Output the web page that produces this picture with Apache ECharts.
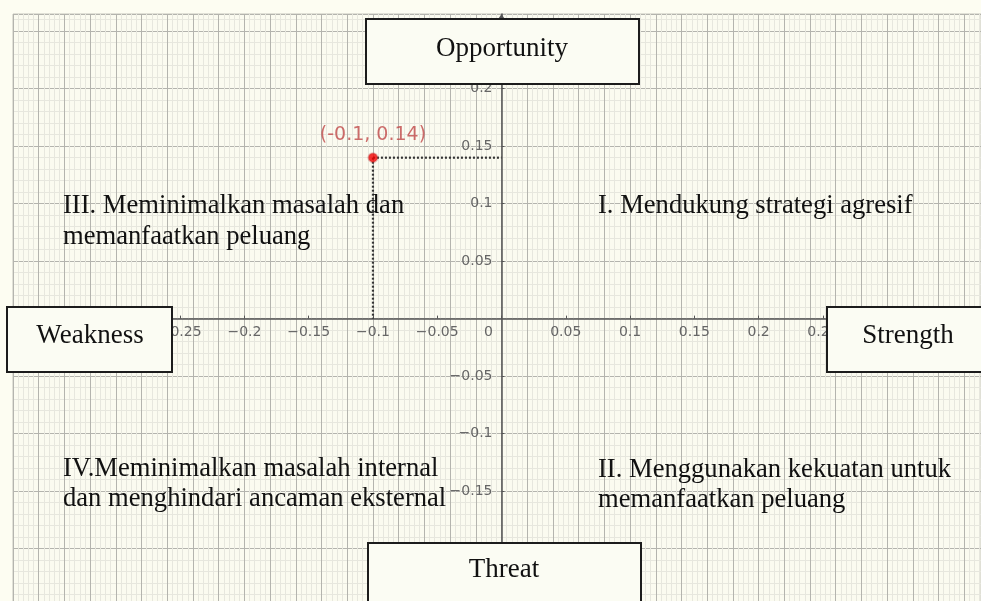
<!DOCTYPE html>
<html>
<head>
<meta charset="utf-8">
<title>Diagram SWOT</title>
<script src="https://cdn.jsdelivr.net/npm/echarts@6/dist/echarts.min.js"></script>
<style>
  html, body { margin: 0; padding: 0; background: #fdfdf2; }
  #chart { width: 981px; height: 601px; }
</style>
</head>
<body>
<div id="chart"></div>
<script>
  // data
  var xLabels = [-0.25, -0.2, -0.15, -0.1, -0.05, 0, 0.05, 0.1, 0.15, 0.2, 0.25];
  var yLabels = [-0.15, -0.1, -0.05, 0.05, 0.1, 0.15, 0.2];
  var pointX = [-0.1];
  var pointY = [0.14];
  var pointNames = ['(-0.1, 0.14)'];
  var boxNames = ['Opportunity', 'Weakness', 'Strength', 'Threat'];
  var quadrantNames = [
    'III. Meminimalkan masalah dan\nmemanfaatkan peluang',
    'I. Mendukung strategi agresif',
    'IV.Meminimalkan masalah internal\ndan menghindari ancaman eksternal',
    'II. Menggunakan kekuatan untuk\nmemanfaatkan peluang'
  ];

  var labelFont = 'DejaVu Sans';
  var serif = '"Liberation Serif", "Times New Roman", serif';

  // grid layout (pixels)
  var gridLeft = 13, gridTop = 14, gridBottom = -5;
  var xMin = -0.38, xMax = 0.373, yMin = -0.25, yMax = 0.265;
  var plotW = 981 - gridLeft, plotH = 601 - gridTop - gridBottom;
  // the label axes sit on the origin, so shift them in from the grid edges
  var xAxisShift = -(plotH * (0 - yMin) / (yMax - yMin));
  var yAxisShift = -(plotW * (0 - xMin) / (xMax - xMin));

  function minus(v) {
    return String(v).replace('-', '\u2212');
  }

  var myChart = echarts.init(document.getElementById('chart'), null, { renderer: 'canvas' });

  var gridAxis = {
    type: 'value',
    axisLine: { show: false, onZero: false },
    axisTick: { show: false },
    axisLabel: { show: false },
    splitLine: { show: true, lineStyle: { color: '#b4b4ae', width: 1 } },
    minorTick: { show: false, splitNumber: 5 },
    minorSplitLine: { show: true, lineStyle: { color: '#e7e7de', width: 1 } }
  };

  var boxes = [
    { x: 366, y: 19, w: 273, h: 65, tx: 502, ty: 49 },
    { x: 7, y: 307, w: 165, h: 65, tx: 90, ty: 336 },
    { x: 827, y: 307, w: 200, h: 65, tx: 908, ty: 336 },
    { x: 368, y: 543, w: 273, h: 100, tx: 504, ty: 570 }
  ];
  var quadrantPos = [
    { x: 63, y: 222, lh: 31 },
    { x: 598, y: 206, lh: 31 },
    { x: 63, y: 484, lh: 30 },
    { x: 598, y: 485, lh: 30 }
  ];

  var graphics = [];
  boxes.forEach(function (b, i) {
    graphics.push({
      type: 'rect',
      z: 100,
      shape: { x: b.x, y: b.y, width: b.w, height: b.h },
      style: { fill: '#fbfcf3', stroke: '#1c1c1c', lineWidth: 2 }
    });
    graphics.push({
      type: 'text',
      z: 101,
      x: b.tx,
      y: b.ty,
      style: {
        text: boxNames[i],
        font: '27px ' + serif,
        fill: '#111',
        align: 'center',
        verticalAlign: 'middle'
      }
    });
  });
  quadrantPos.forEach(function (q, i) {
    graphics.push({
      type: 'text',
      z: 101,
      x: q.x,
      y: q.y,
      style: {
        text: quadrantNames[i],
        font: '26.6px ' + serif,
        fill: '#111',
        lineHeight: q.lh,
        align: 'left',
        verticalAlign: 'middle'
      }
    });
  });

  myChart.setOption({
    backgroundColor: '#fdfdf2',
    animation: false,
    grid: {
      left: gridLeft,
      top: gridTop,
      right: 0,
      bottom: gridBottom,
      outerBoundsMode: 'none',
      containLabel: false,
      show: true,
      backgroundColor: '#fbfbf0',
      borderColor: '#c4c4bc',
      borderWidth: 1
    },
    xAxis: [
      echarts.util.merge({ min: xMin, max: xMax, interval: 0.02, position: 'bottom' }, gridAxis, true),
      {
        type: 'value',
        min: xMin,
        max: xMax,
        position: 'bottom',
        offset: xAxisShift,
        axisLine: { show: true, onZero: false, lineStyle: { color: '#555', width: 1.5 } },
        axisTick: { show: true, customValues: xLabels, inside: true, length: 3, lineStyle: { color: '#555' } },
        axisLabel: {
          customValues: xLabels,
          margin: 7,
          color: '#666',
          fontFamily: labelFont,
          fontSize: 14,
          formatter: function (v) {
            return v === 0 ? '{z|0}' : minus(v);
          },
          rich: {
            z: { padding: [0, 26, 0, 0], color: '#666', fontFamily: labelFont, fontSize: 14 }
          }
        },
        splitLine: { show: false }
      }
    ],
    yAxis: [
      echarts.util.merge({ min: yMin, max: yMax, interval: 0.05, position: 'left' }, gridAxis, true),
      {
        type: 'value',
        min: yMin,
        max: yMax,
        position: 'left',
        offset: yAxisShift,
        axisLine: {
          show: true,
          onZero: false,
          symbol: ['none', 'arrow'],
          symbolSize: [8, 8],
          lineStyle: { color: '#555', width: 1.5 }
        },
        axisTick: { show: true, customValues: yLabels, inside: true, length: 3, lineStyle: { color: '#555' } },
        axisLabel: {
          customValues: yLabels,
          margin: 9,
          color: '#666',
          fontFamily: labelFont,
          fontSize: 14,
          formatter: minus
        },
        splitLine: { show: false }
      }
    ],
    series: [
      {
        type: 'line',
        xAxisIndex: 1,
        yAxisIndex: 1,
        silent: true,
        symbol: 'none',
        data: [[pointX[0], pointY[0]], [0, pointY[0]]],
        lineStyle: { color: '#333', width: 2.2, type: [2, 2] }
      },
      {
        type: 'line',
        xAxisIndex: 1,
        yAxisIndex: 1,
        silent: true,
        symbol: 'none',
        data: [[pointX[0], pointY[0]], [pointX[0], 0]],
        lineStyle: { color: '#333', width: 2.2, type: [2, 2] }
      },
      {
        type: 'scatter',
        xAxisIndex: 1,
        yAxisIndex: 1,
        z: 5,
        symbolSize: 9,
        data: pointX.map(function (x, i) {
          return { value: [x, pointY[i]], name: pointNames[i] };
        }),
        itemStyle: { color: '#f20000', borderColor: 'rgba(190, 60, 60, 0.4)', borderWidth: 2 },
        label: {
          show: true,
          position: 'top',
          distance: 8,
          formatter: '{b}',
          color: '#c04848',
          fontFamily: labelFont,
          fontSize: 19
        }
      }
    ],
    graphic: graphics
  });
</script>
</body>
</html>
